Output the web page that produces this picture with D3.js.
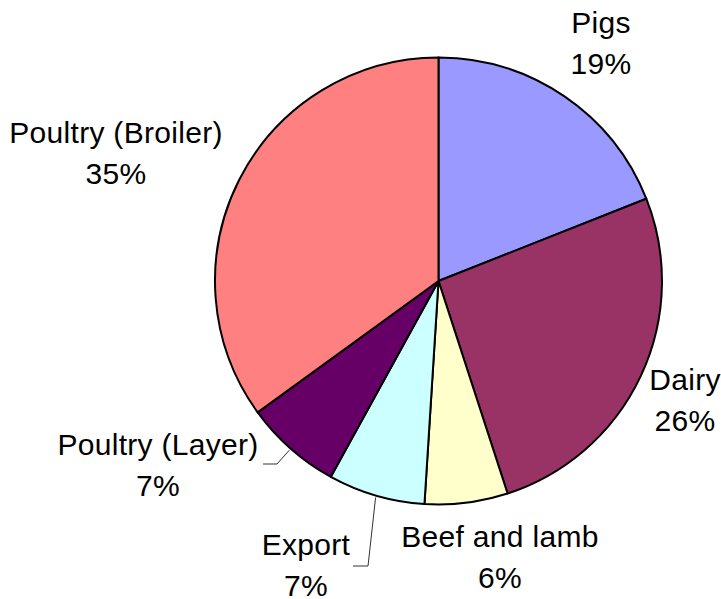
<!DOCTYPE html>
<html>
<head>
<meta charset="utf-8">
<script src="https://cdn.jsdelivr.net/npm/d3@7/dist/d3.min.js"></script>
<style>
  html, body { margin: 0; padding: 0; background: #fff; }
  svg { display: block; }
  text { font-family: "Liberation Sans", Arial, sans-serif; font-size: 30px; letter-spacing: 0.3px; fill: #000; }
</style>
</head>
<body>
<svg id="chart" width="721" height="599"></svg>
<script>
// Share of feed use by sector (percent)
const categories = ["Pigs", "Dairy", "Beef and lamb", "Export", "Poultry (Layer)", "Poultry (Broiler)"];
const values = [19, 26, 6, 7, 7, 35];
const colors = ["#9999FF", "#993366", "#FFFFCC", "#CCFFFF", "#660066", "#FF8080"];

// Label placement: centre of the two-line label block and first baseline
const labelLayout = {
  "Pigs":              { x: 601, y: 33 },
  "Dairy":             { x: 685, y: 390 },
  "Beef and lamb":     { x: 500, y: 547 },
  "Export":            { x: 306, y: 555 },
  "Poultry (Layer)":   { x: 158, y: 455 },
  "Poultry (Broiler)": { x: 116, y: 143 }
};
// Leader lines for labels that sit away from their slice
const leaders = {
  "Export":          { elbowX: 368, elbowY: 566, endX: 353 },
  "Poultry (Layer)": { elbowX: 277, elbowY: 464, endX: 263 }
};

const cx = 438.5, cy = 281, radius = 223.5;
const svg = d3.select("#chart");
const g = svg.append("g").attr("transform", `translate(${cx},${cy})`);

const data = categories.map((c, i) => ({ category: c, value: values[i], color: colors[i] }));
const pie = d3.pie().value(d => d.value).sort(null);
const arc = d3.arc().innerRadius(0).outerRadius(radius);
const arcs = pie(data);

g.selectAll("path.slice")
  .data(arcs)
  .join("path")
  .attr("class", "slice")
  .attr("d", arc)
  .attr("fill", d => d.data.color)
  .attr("stroke", "#000")
  .attr("stroke-width", 2)
  .attr("stroke-linejoin", "round");

// Leader lines
const edgeArc = d3.arc().innerRadius(radius + 2).outerRadius(radius + 2);
arcs.filter(d => leaders[d.data.category]).forEach(d => {
  const L = leaders[d.data.category];
  const [sx, sy] = edgeArc.centroid(d);
  svg.append("polyline")
    .attr("points", `${cx + sx},${cy + sy} ${L.elbowX},${L.elbowY} ${L.endX},${L.elbowY}`)
    .attr("fill", "none")
    .attr("stroke", "#333")
    .attr("stroke-width", 1);
});

// Labels: category name and percentage
const labels = svg.selectAll("g.label")
  .data(arcs)
  .join("g")
  .attr("class", "label")
  .attr("transform", d => {
    const p = labelLayout[d.data.category];
    return `translate(${p.x},${p.y})`;
  });

labels.append("text")
  .attr("text-anchor", "middle")
  .text(d => d.data.category);

const total = d3.sum(values);
labels.append("text")
  .attr("text-anchor", "middle")
  .attr("y", 40.5)
  .text(d => `${Math.round(d.data.value / total * 100)}%`);
</script>
</body>
</html>
